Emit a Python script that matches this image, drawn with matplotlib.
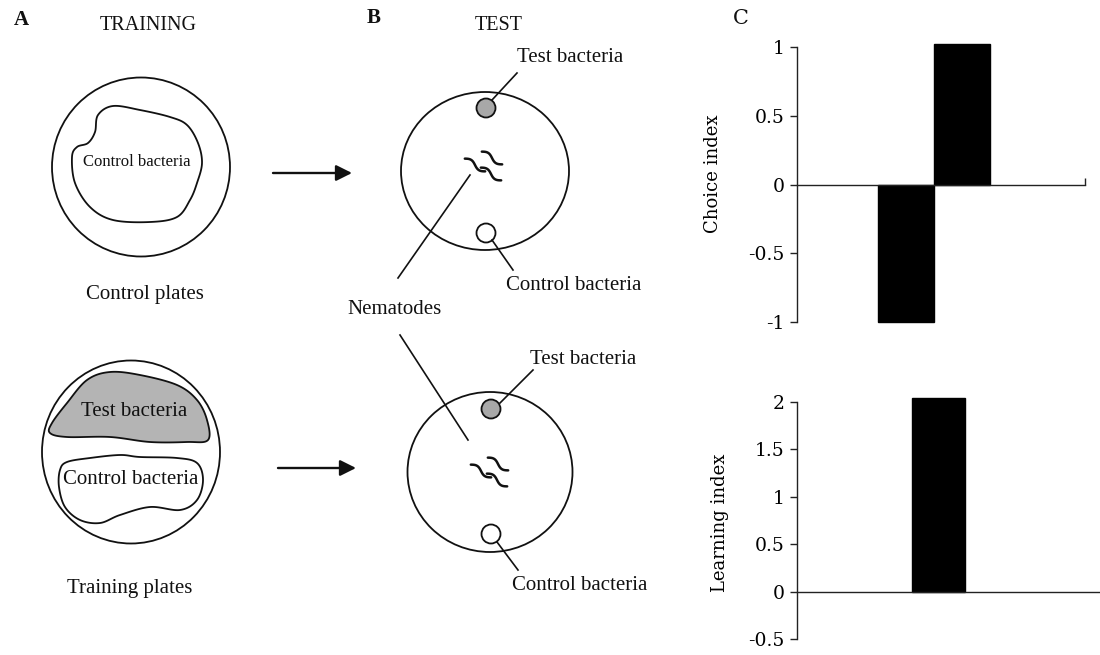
import numpy as np
import matplotlib
matplotlib.use("Agg")
import matplotlib.pyplot as plt
from matplotlib.patches import Ellipse, Circle, Polygon

# chart C data
choice_groups = ["Control", "Trained"]
choice_values = [-1.0, 1.02]
learning_groups = ["Trained"]
learning_values = [2.04]
choice_ticks = [-1, -0.5, 0, 0.5, 1]
learning_ticks = [-0.5, 0, 0.5, 1, 1.5, 2]

SERIF = "Liberation Serif"
INK = "#111111"


def smooth(pts, n=20):
    # closed Catmull-Rom curve through the points
    p = np.asarray(pts, float)
    out = []
    k = len(p)
    for i in range(k):
        p0, p1, p2, p3 = p[i - 1], p[i], p[(i + 1) % k], p[(i + 2) % k]
        t = np.linspace(0, 1, n, endpoint=False)[:, None]
        out.append(0.5 * ((2 * p1) + (-p0 + p2) * t
                          + (2 * p0 - 5 * p1 + 4 * p2 - p3) * t ** 2
                          + (-p0 + 3 * p1 - 3 * p2 + p3) * t ** 3))
    return np.vstack(out)


def worms(ax, cx, cy):
    # three little "~" strokes, tilted down to the right
    ang = np.deg2rad(32)
    d = np.array([np.cos(ang), np.sin(ang)])
    nrm = np.array([-d[1], d[0]])
    t = np.linspace(-1, 1, 40)
    s = t * 12
    w = 2.3 * np.sin(np.pi * t)
    for ox, oy in [(-9, 0), (8, -7), (7, 9)]:
        xy = np.outer(s, d) + np.outer(w, nrm)
        ax.plot(cx + ox + xy[:, 0], cy + oy + xy[:, 1], color=INK, lw=1.8,
                solid_capstyle="round")


fig = plt.figure(figsize=(11, 6.55), dpi=100)
ax = fig.add_axes([0, 0, 1, 1])
ax.set_xlim(0, 1100)
ax.set_ylim(655, 0)
ax.axis("off")

txt = dict(family=SERIF, color=INK, ha="center", va="center")
ax.text(21, 20, "A", fontsize=15, weight="bold", **txt)
ax.text(148, 26, "TRAINING", fontsize=14.5, **txt)
ax.text(374, 18, "B", fontsize=15, weight="bold", **txt)
ax.text(499, 26, "TEST", fontsize=14.5, **txt)
ax.text(741, 19, "C", fontsize=15, family="DejaVu Serif", color=INK,
        ha="center", va="center")

# training plates
ax.add_patch(Ellipse((141, 167), 178, 179, fill=False, lw=1.3, ec=INK))
blob1 = [(113, 106), (140, 110), (170, 117), (187, 125), (198, 143), (202, 163),
         (197, 183), (190, 200), (177, 217), (150, 222), (113, 220), (90, 207),
         (75, 183), (72, 157), (77, 147), (88, 143), (95, 132), (98, 115)]
ax.add_patch(Polygon(smooth(blob1), closed=True, fill=False, lw=1.3, ec=INK))
ax.text(137, 162, "Control bacteria", fontsize=12, **txt)
ax.text(145, 294, "Control plates", fontsize=15, **txt)

ax.add_patch(Ellipse((131, 452), 178, 183, fill=False, lw=1.3, ec=INK))
blob2 = [(110, 372), (140, 375), (177, 385), (197, 400), (207, 420), (208, 440),
         (187, 442), (150, 442), (110, 437), (67, 437), (50, 433), (52, 423),
         (67, 403), (87, 380)]
ax.add_patch(Polygon(smooth(blob2), closed=True, fc="#b4b4b4", lw=1.3, ec=INK))
blob3 = [(67, 462), (90, 458), (120, 455), (140, 457), (177, 458), (197, 463),
         (203, 480), (197, 500), (180, 510), (150, 507), (120, 515), (100, 523),
         (80, 520), (65, 507), (59, 487), (60, 470)]
ax.add_patch(Polygon(smooth(blob3), closed=True, fill=False, lw=1.3, ec=INK))
ax.text(134, 412, "Test bacteria", fontsize=15, **txt)
ax.text(131, 480, "Control bacteria", fontsize=15, **txt)
ax.text(130, 589, "Training plates", fontsize=15, **txt)

# arrows
for y, x0, x1 in [(173, 273, 352), (468, 278, 356)]:
    ax.annotate("", xy=(x1, y), xytext=(x0, y),
                arrowprops=dict(arrowstyle="-|>,head_length=0.6,head_width=0.3",
                                color=INK, lw=1.7, mutation_scale=16,
                                shrinkA=0, shrinkB=0))

# test plates
for (cx, cy, w, h) in [(485, 171, 168, 158), (490, 472, 165, 160)]:
    ax.add_patch(Ellipse((cx, cy), w, h, fill=False, lw=1.3, ec=INK))
    ax.add_patch(Circle((cx + 1, cy - 63), 9.5, fc="#a8a8a8", ec=INK, lw=1.3))
    ax.add_patch(Circle((cx + 1, cy + 62), 9.5, fc="white", ec=INK, lw=1.3))

worms(ax, 484, 165)
worms(ax, 490, 471)

ax.plot([492, 517], [100, 73], color=INK, lw=1.2)
ax.plot([492, 513], [240, 270], color=INK, lw=1.2)
ax.plot([500, 533], [403, 370], color=INK, lw=1.2)
ax.plot([497, 518], [542, 570], color=INK, lw=1.2)
ax.plot([470, 398], [175, 278], color=INK, lw=1.2)
ax.plot([400, 468], [335, 440], color=INK, lw=1.2)

ax.text(570, 58, "Test bacteria", fontsize=15, **txt)
ax.text(574, 285, "Control bacteria", fontsize=15, **txt)
ax.text(395, 310, "Nematodes", fontsize=15, **txt)
ax.text(583, 360, "Test bacteria", fontsize=15, **txt)
ax.text(580, 586, "Control bacteria", fontsize=15, **txt)

# chart C
W, H = 1100, 655


def style(a, ticks, label, lx, ly):
    a.set_facecolor("none")
    for s in ["top", "right"]:
        a.spines[s].set_visible(False)
    a.spines["bottom"].set_position(("data", 0))
    for s in ["left", "bottom"]:
        a.spines[s].set_linewidth(1.0)
        a.spines[s].set_color("#222222")
    a.set_yticks(ticks)
    a.set_yticklabels([f"{t:g}" for t in ticks], family="DejaVu Serif",
                      fontsize=13.5, color="black")
    a.tick_params(axis="y", direction="out", length=5, width=1.0, color="#222222", pad=4)
    a.set_ylabel(label, family="DejaVu Serif", fontsize=13, color="black")
    a.yaxis.set_label_coords(lx, ly)


top = fig.add_axes([797 / W, (H - 322) / H, 288 / W, 275 / H])
xs = np.arange(len(choice_groups))
top.bar(xs, choice_values, width=1.0, color="black", edgecolor="black", clip_on=False)
top.set_ylim(-1, 1)
top.set_xlim(-1.955, 3.188)
style(top, choice_ticks, "Choice index", -0.26, 0.54)
top.set_xticks([3.188])
top.set_xticklabels([""])
top.tick_params(axis="x", direction="in", length=5, width=1.0, color="#222222")

bot = fig.add_axes([797 / W, (H - 639) / H, 303 / W, 237 / H])
bot.bar(np.arange(len(learning_groups)), learning_values, width=1.0,
        color="black", edgecolor="black", clip_on=False)
bot.set_ylim(-0.5, 2)
bot.set_xlim(-2.67, 3.05)
style(bot, learning_ticks, "Learning index", -0.224, 0.49)
bot.set_xticks([])

fig.savefig("out.png", dpi=100)
